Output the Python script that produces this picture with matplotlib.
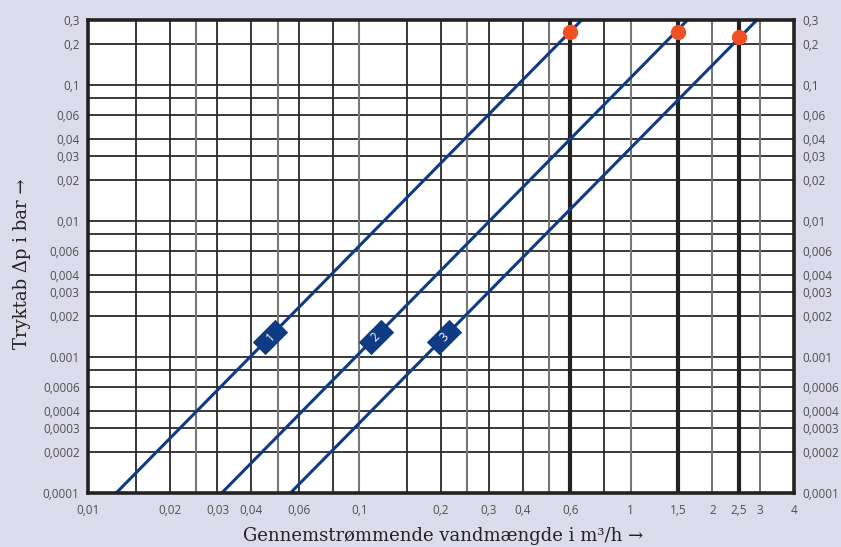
import matplotlib
matplotlib.use("Agg")
import matplotlib.pyplot as plt
import numpy as np
from matplotlib.path import Path

# ---------------- data ----------------
x_min, x_max = 0.01, 4
y_min, y_max = 0.0001, 0.3

x_ticks = [0.01, 0.02, 0.03, 0.04, 0.06, 0.1, 0.2, 0.3, 0.4, 0.6, 1, 1.5, 2, 2.5, 3, 4]
x_ticklabels = ["0,01", "0,02", "0,03", "0,04", "0,06", "0,1", "0,2", "0,3", "0,4",
                "0,6", "1", "1,5", "2", "2,5", "3", "4"]
y_ticks = [0.3, 0.2, 0.1, 0.06, 0.04, 0.03, 0.02, 0.01, 0.006, 0.004, 0.003, 0.002,
           0.001, 0.0006, 0.0004, 0.0003, 0.0002, 0.0001]
y_ticklabels = ["0,3", "0,2", "0,1", "0,06", "0,04", "0,03", "0,02", "0,01", "0,006",
                "0,004", "0,003", "0,002", "0.001", "0,0006", "0,0004", "0,0003",
                "0,0002", "0,0001"]

h_grid = [0.2, 0.1, 0.08, 0.06, 0.04, 0.03, 0.02, 0.01, 0.008, 0.006, 0.004, 0.003,
          0.002, 0.001, 0.0008, 0.0006, 0.0004, 0.0003, 0.0002]
v_grid_dark = [0.015, 0.02, 0.03, 0.04, 0.06, 0.08, 0.15, 0.2, 0.3, 0.4, 0.8]
v_grid_gray = [0.025, 0.05, 0.1, 0.25, 0.5, 1, 2, 3]
v_grid_thick = [0.6, 1.5, 2.5]

# Lines (straight on log-log): flow at dp=0.0001 and at dp=0.3
line_names = ["1", "2", "3"]
line_q = [[0.0127, 0.66], [0.0311, 1.62], [0.0557, 2.92]]
line_dp = [[0.0001, 0.3], [0.0001, 0.3], [0.0001, 0.3]]
badge_q = [0.047, 0.115, 0.206]
badge_dp = [0.0014, 0.0014, 0.0014]

dot_q = [0.6, 1.5, 2.5]
dot_dp = [0.245, 0.243, 0.225]

# ---------------- style ----------------
bg = "#dcdcec"
navy = "#0f3a84"
red = "#f05023"
tick_col = "#505050"

# rotated rectangle marker for badges (32 x 18 px, 45 deg)
hl, hw = 16.0, 9.0
corners = np.array([[-hl, -hw], [hl, -hw], [hl, hw], [-hl, hw], [-hl, -hw]])
ang = np.deg2rad(45)
rot = np.array([[np.cos(ang), -np.sin(ang)], [np.sin(ang), np.cos(ang)]])
rc = corners @ rot.T
badge_path = Path(rc, closed=True)
badge_ms = 2 * np.abs(rc).max() * 0.72

fig = plt.figure(figsize=(8.41, 5.47), dpi=100, facecolor=bg)
ax = fig.add_axes([88 / 841, 54 / 547, (794 - 88) / 841, (493 - 20) / 547])
ax.set_facecolor("white")
ax.set_xscale("log")
ax.set_yscale("log")
ax.set_xlim(x_min, x_max)
ax.set_ylim(y_min, y_max)

for v in h_grid:
    ax.axhline(v, color="#2a2a2a", lw=1.3, zorder=1)
for v in v_grid_dark:
    ax.axvline(v, color="#2a2a2a", lw=1.3, zorder=1)
for v in v_grid_gray:
    ax.axvline(v, color="#777777", lw=1.5, zorder=1)
for v in v_grid_thick:
    ax.axvline(v, color="#222222", lw=3.0, zorder=2)

for name, q, dp, bq, bdp in zip(line_names, line_q, line_dp, badge_q, badge_dp):
    ax.plot(q, dp, color=navy, lw=2.2, zorder=3, solid_capstyle="butt")
    ax.plot([bq], [bdp], marker=badge_path, ms=badge_ms, color=navy, mec=navy,
            mew=0, zorder=4, linestyle="none")
    ax.text(bq, bdp, name, rotation=45, rotation_mode="anchor",
            ha="center", va="center", color="white", fontsize=8.5,
            family="Open Sans", zorder=5)

ax.plot(dot_q, dot_dp, "o", color=red, ms=10, mec=red, zorder=6, clip_on=False,
        linestyle="none")

for s in ax.spines.values():
    s.set_linewidth(2.6)
    s.set_color("#222222")
    s.set_zorder(7)

ax.minorticks_off()
ax.set_xticks(x_ticks)
ax.set_xticklabels(x_ticklabels)
ax.set_yticks(y_ticks)
ax.set_yticklabels(y_ticklabels)
ax.tick_params(axis="both", length=0, labelsize=8.5, colors=tick_col)
ax.tick_params(axis="x", pad=8)
ax.tick_params(axis="y", pad=6, right=True, labelright=True, left=True, labelleft=True)
for lab in ax.get_xticklabels() + ax.get_yticklabels():
    lab.set_family("Open Sans")

fig.text(443 / 841, 1 - 536 / 547, "Gennemstrømmende vandmængde i m³/h →",
         ha="center", va="center", fontsize=13, family="DejaVu Serif", color="#222222")
fig.text(22 / 841, 1 - 264 / 547, "Tryktab Δp i bar →", rotation=90,
         ha="center", va="center", fontsize=13, family="DejaVu Serif", color="#222222")

fig.savefig("out.png", dpi=100, facecolor=bg)
